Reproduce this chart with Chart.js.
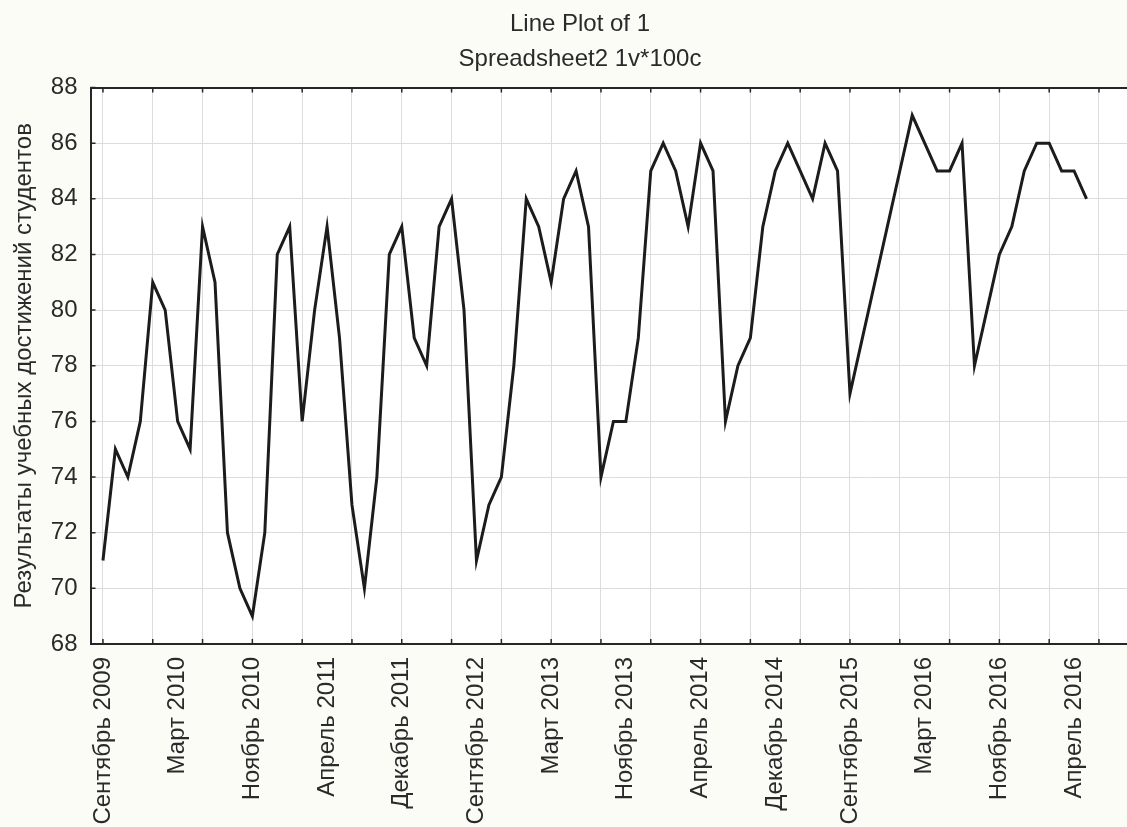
<!DOCTYPE html>
<html>
<head>
<meta charset="utf-8">
<script src="https://cdn.jsdelivr.net/npm/chart.js@4.4.0/dist/chart.umd.min.js"></script>
<style>
  html, body { margin: 0; padding: 0; background: #fcfcf7; }
  #wrap { width: 1127px; height: 827px; }
</style>
</head>
<body>
<div id="wrap"><canvas id="canvas1" width="1127" height="827"></canvas></div>
<script>
// month labels, one every 6 points
const monthLabels = ['Сентябрь 2009', 'Март 2010', 'Ноябрь 2010', 'Апрель 2011', 'Декабрь 2011',
    'Сентябрь 2012', 'Март 2013', 'Ноябрь 2013', 'Апрель 2014', 'Декабрь 2014',
    'Сентябрь 2015', 'Март 2016', 'Ноябрь 2016', 'Апрель 2016'];

// series values (80 points)
const scores = [
    71, 75, 74, 76, 81, 80, 76, 75, 83, 81, 72, 70, 69, 72, 82, 83, 76, 80, 83, 79, 73, 70,
    74, 82, 83, 79, 78, 83, 84, 80, 71, 73, 74, 78, 84, 83, 81, 84, 85, 83, 74, 76,
    76, 79, 85, 86, 85, 83, 86, 85, 76, 78, 79, 83, 85, 86, 85, 84, 86, 85,
    77, 79, 81, 83, 85, 87, 86, 85, 85, 86, 78, 80, 82, 83, 85, 86, 86, 85, 85, 84
];

const labelStep = 6;  // a month label every 6 points
const gridStep = 4;   // a grid line every 4 points
const yMin = 68, yMax = 88;

const fontFamily = "'Liberation Sans', Arial, sans-serif";
const textColor = '#2a2a2a';
const axisColor = '#262626';
const gridColor = '#dcdcdc';

const points = scores.map((v, i) => ({ x: i, y: v }));

// background: cream page, white plot area
const backgroundPlugin = {
    id: 'background',
    beforeDraw(chart) {
        const { ctx, chartArea } = chart;
        ctx.save();
        ctx.fillStyle = '#fcfcf7';
        ctx.fillRect(0, 0, chart.width, chart.height);
        ctx.fillStyle = '#ffffff';
        ctx.fillRect(chartArea.left, chartArea.top, chartArea.right - chartArea.left, chartArea.bottom - chartArea.top);
        ctx.restore();
    }
};

// move the title centre a little left, as in the original
const titleShift = {
    id: 'titleShift',
    afterLayout(chart) {
        if (chart.titleBlock) {
            chart.titleBlock.left = 33;
            chart.titleBlock.right = chart.width;
        }
    }
};

// short tick marks pointing into the plot
const innerTicks = {
    id: 'innerTicks',
    afterDraw(chart) {
        const { ctx, chartArea, scales } = chart;
        const len = 5;
        ctx.save();
        ctx.strokeStyle = axisColor;
        ctx.lineWidth = 1.5;
        ctx.beginPath();
        scales.x.ticks.forEach(t => {
            if (t.value % gridStep !== 0) return;
            const px = scales.x.getPixelForValue(t.value);
            ctx.moveTo(px, chartArea.bottom);
            ctx.lineTo(px, chartArea.bottom - len);
            ctx.moveTo(px, chartArea.top);
            ctx.lineTo(px, chartArea.top + len);
        });
        scales.y.ticks.forEach(t => {
            const py = scales.y.getPixelForValue(t.value);
            ctx.moveTo(chartArea.left, py);
            ctx.lineTo(chartArea.left + len, py);
        });
        ctx.stroke();
        ctx.restore();
    }
};

const ctx1 = document.getElementById('canvas1').getContext('2d');

const myChart1 = new Chart(ctx1, {
    type: 'line',
    data: {
        datasets: [{
            label: '1',
            data: points,
            borderColor: '#1c1c1c',
            backgroundColor: 'transparent',
            borderWidth: 3,
            pointRadius: 0,
            tension: 0
        }]
    },
    options: {
        responsive: false,
        animation: false,
        layout: { padding: 0 },
        plugins: {
            legend: { display: false },
            tooltip: { enabled: false },
            title: {
                display: true,
                text: ['Line Plot of 1', 'Spreadsheet2 1v*100c'],
                color: textColor,
                font: { family: fontFamily, size: 24, weight: 'normal', lineHeight: '35px' },
                padding: { top: 7, bottom: 10.5 }
            }
        },
        scales: {
            x: {
                type: 'linear',
                min: -1,
                max: 82.25,
                afterBuildTicks(scale) {
                    const ticks = [];
                    for (let v = 0; v <= 80; v++) {
                        if (v % gridStep === 0 || v % labelStep === 0) ticks.push({ value: v });
                    }
                    scale.ticks = ticks;
                },
                afterFit(scale) {
                    scale.height = 183;
                    scale.paddingLeft = 0;
                    scale.paddingRight = 0;
                },
                ticks: {
                    autoSkip: false,
                    minRotation: 90,
                    maxRotation: 90,
                    padding: 13,
                    color: textColor,
                    font: { family: fontFamily, size: 24 },
                    callback(value) {
                        if (value % labelStep !== 0) return '';
                        const label = monthLabels[value / labelStep];
                        return label === undefined ? '' : label;
                    }
                },
                grid: {
                    drawTicks: false,
                    color: c => (c.tick && c.tick.value % gridStep === 0) ? gridColor : 'rgba(0,0,0,0)',
                    lineWidth: 1
                },
                border: { display: true, color: axisColor, width: 2 }
            },
            y: {
                min: yMin,
                max: yMax,
                afterFit(scale) { scale.width = 90.5; },
                ticks: {
                    stepSize: 2,
                    padding: 13,
                    color: textColor,
                    font: { family: fontFamily, size: 24 }
                },
                grid: {
                    drawTicks: false,
                    color: c => (c.tick && c.tick.value === yMax) ? axisColor : gridColor,
                    lineWidth: c => (c.tick && c.tick.value === yMax) ? 2 : 1
                },
                border: { display: true, color: axisColor, width: 2 },
                title: {
                    display: true,
                    text: 'Результаты учебных достижений студентов',
                    color: textColor,
                    font: { family: fontFamily, size: 24 },
                    padding: { top: 10, bottom: 0 }
                }
            }
        }
    },
    plugins: [backgroundPlugin, titleShift, innerTicks]
});
</script>
</body>
</html>
